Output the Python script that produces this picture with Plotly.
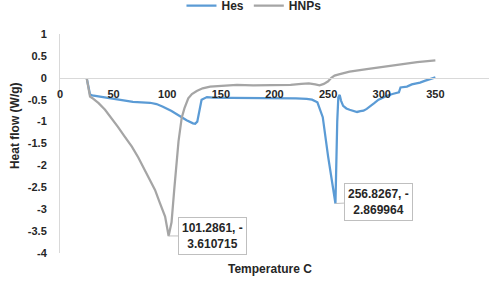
import plotly.graph_objects as go

# Hes series (Temperature C, Heat flow W/g)
hes_x = [25, 28, 30, 40, 50, 60, 68, 76, 84, 90, 96, 104, 112, 118, 124, 126, 128, 130, 132, 137, 143,
         160, 180, 200, 220, 230, 235, 240, 245, 250, 254, 256.8267, 258.5, 259.5, 260.8, 262, 264,
         267, 270, 274, 277, 280, 283, 286, 289, 293, 297, 301, 305, 310, 314, 316, 317.5, 320, 323.5,
         328, 335.7, 340, 345, 350]
hes_y = [-0.02, -0.38, -0.40, -0.44, -0.48, -0.52, -0.55, -0.56, -0.57, -0.60, -0.66, -0.76, -0.89, -0.97,
         -1.04, -1.05, -1.0, -0.75, -0.5, -0.44, -0.45, -0.46, -0.46, -0.47, -0.47, -0.48, -0.50, -0.56,
         -0.9, -1.8, -2.4, -2.869964, -1.0, -0.45, -0.39, -0.52, -0.64, -0.70, -0.73, -0.75, -0.78, -0.76,
         -0.75, -0.71, -0.66, -0.58, -0.50, -0.45, -0.41, -0.37, -0.34, -0.33, -0.22, -0.21, -0.20,
         -0.15, -0.11, -0.07, -0.03, 0.01]

# HNPs series
hnp_x = [25, 28, 30, 36, 42, 48, 54, 60, 67, 73, 79, 84, 88.6, 93, 98, 101.2861, 104, 106.5, 108.5,
         110.5, 113.5, 116, 119.6, 123, 127.5, 133, 140, 150, 165, 180, 200, 215, 225, 232, 238, 242,
         246, 250, 253, 256, 260, 270, 286, 301, 317, 333, 350]
hnp_y = [-0.02, -0.43, -0.46, -0.58, -0.73, -0.92, -1.12, -1.33, -1.57, -1.82, -2.1, -2.33, -2.56,
         -2.85, -3.17, -3.610715, -3.3, -2.56, -1.9, -1.45, -0.91, -0.70, -0.47, -0.37, -0.3, -0.24,
         -0.2, -0.18, -0.16, -0.17, -0.17, -0.16, -0.14, -0.13, -0.15, -0.17, -0.14, -0.08, 0.0, 0.05,
         0.08, 0.14, 0.2, 0.25, 0.31, 0.36, 0.4]

x_ticks = [0, 50, 100, 150, 200, 250, 300, 350, 400]
y_ticks = [1, 0.5, 0, -0.5, -1, -1.5, -2, -2.5, -3, -3.5, -4]

callouts = [
    (101.2861, -3.610715, "101.2861, -<br>3.610715", 44, 0),
    (256.8267, -2.869964, "256.8267, -<br>2.869964", 43, -2),
]

FONT = "Liberation Sans"
TXT = "#262626"
BLUE = "#5B9BD5"
GRAY = "#A5A5A5"
AX = "#D9D9D9"

fig = go.Figure()
fig.add_trace(go.Scatter(x=hes_x, y=hes_y, mode="lines", name="Hes",
                         line=dict(color=BLUE, width=2.25)))
fig.add_trace(go.Scatter(x=hnp_x, y=hnp_y, mode="lines", name="HNPs",
                         line=dict(color=GRAY, width=2.25)))

bold = lambda s: dict(family=FONT, size=s, color=TXT, weight="bold")

annotations = []
for x, y, t, ax, ay in callouts:
    annotations.append(dict(x=x, y=y, xref="x", yref="y", text=t, showarrow=True,
                            arrowhead=0, arrowwidth=1, arrowcolor="#BFBFBF", ax=ax, ay=ay,
                            bordercolor="#BFBFBF", borderwidth=1, borderpad=3, bgcolor="white",
                            font=bold(12), align="center"))
annotations.append(dict(text="Temperature C", xref="paper", yref="paper", x=0.49, y=-0.075,
                        xanchor="center", yanchor="middle", showarrow=False, font=bold(12)))
annotations.append(dict(text="Heat flow (W/g)", xref="paper", yref="paper", x=-0.105, y=0.584,
                        xanchor="center", yanchor="middle", showarrow=False, textangle=-90,
                        font=bold(12)))

fig.update_layout(
    width=498, height=281,
    margin=dict(l=60, r=9, t=34, b=28),
    paper_bgcolor="white", plot_bgcolor="white",
    font=dict(family=FONT, size=11, color=TXT),
    showlegend=True,
    legend=dict(orientation="h", xref="container", yref="container", x=0.51, y=0.98,
                xanchor="center", yanchor="middle", font=bold(12), bgcolor="rgba(0,0,0,0)",
                itemwidth=30, tracegroupgap=0),
    xaxis=dict(range=[0, 400], tickvals=x_ticks, ticktext=[str(v) for v in x_ticks],
               showgrid=False, zeroline=False, showline=True, linecolor=AX, linewidth=1,
               anchor="free", position=0.8, ticks="", ticklabelstandoff=6, automargin=False,
               tickfont=bold(11)),
    yaxis=dict(range=[-4, 1], tickvals=y_ticks, ticktext=[str(v) for v in y_ticks],
               showgrid=False, zeroline=False, showline=True, linecolor=AX, linewidth=1,
               ticks="", ticklabelstandoff=10, automargin=False, tickfont=bold(11)),
    annotations=annotations,
)

fig.write_html("out.html", config={"displayModeBar": False},
               post_script="document.body.style.margin='0px';")
